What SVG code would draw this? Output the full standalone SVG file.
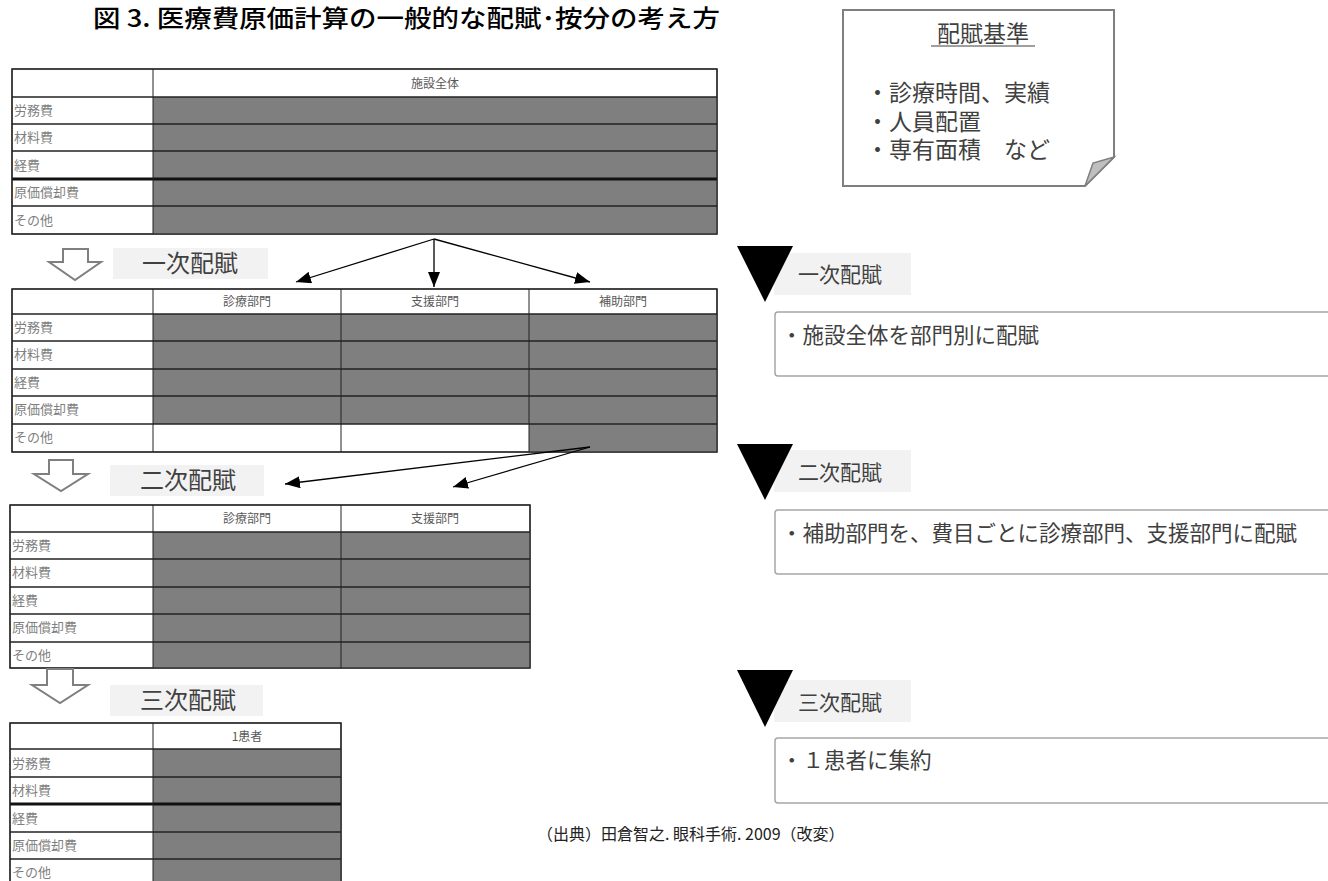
<svg xmlns="http://www.w3.org/2000/svg" width="1328" height="881" viewBox="0 0 1328 881">
<style>
.jp{font-family:"Noto Sans CJK JP","Noto Sans",sans-serif}
.title{font-size:24px;font-weight:500;fill:#000}
.hd{font-size:12px;fill:#595959;text-anchor:middle}
.rl{font-size:13px;fill:#7f7f7f}
.frame{fill:#fff;stroke:#222;stroke-width:1.2}
.cell{fill:#7f7f7f}
.ln{stroke:#222;stroke-width:1.5}
.thick{stroke:#111;stroke-width:3}
.vl{stroke:#222;stroke-width:1}
.hollow{fill:#fff;stroke:#7f7f7f;stroke-width:2}
.lbl{fill:#f2f2f2}
.lbltx{font-size:24px;fill:#404040}
.rtx{font-size:21px;fill:#404040}
.tri{fill:#000}
.desc{fill:#fff;stroke:#a6a6a6;stroke-width:1.5}
.dtx{font-size:21.5px;fill:#404040}
.con{stroke:#000;stroke-width:1.3;fill:none;marker-end:url(#ah)}
.note{fill:#fff;stroke:#7f7f7f;stroke-width:2}
.ntx{font-size:23px;fill:#404040}
</style>
<defs>
<marker id="ah" markerUnits="userSpaceOnUse" markerWidth="16" markerHeight="12" refX="15" refY="6" orient="auto">
<path d="M0,0 L15,6 L0,12 Z" fill="#000"/>
</marker>
</defs>
<rect width="1328" height="881" fill="#fff"/>

<text class="jp title" x="93" y="27" textLength="627" lengthAdjust="spacingAndGlyphs">図 3. 医療費原価計算の一般的な配賦･按分の考え方</text>

<g id="table-total">
<rect class="frame" x="12" y="69" width="705" height="165"/>
<rect class="cell" x="153" y="97" width="564" height="137"/>
<line class="ln" x1="12" y1="97" x2="717" y2="97"/>
<line class="ln" x1="12" y1="124" x2="717" y2="124"/>
<line class="ln" x1="12" y1="151" x2="717" y2="151"/>
<line class="thick" x1="12" y1="179" x2="717" y2="179"/>
<line class="ln" x1="12" y1="206" x2="717" y2="206"/>
<line class="vl" x1="153" y1="69" x2="153" y2="234"/>
<rect x="12" y="69" width="705" height="165" fill="none" stroke="#222" stroke-width="1.2"/>
<text class="jp hd" x="435" y="88">施設全体</text>
<text class="jp rl" x="14" y="115">労務費</text>
<text class="jp rl" x="14" y="142">材料費</text>
<text class="jp rl" x="14" y="170">経費</text>
<text class="jp rl" x="14" y="197">原価償却費</text>
<text class="jp rl" x="14" y="225">その他</text>
</g>

<g id="step1-label">
<path class="hollow" d="M63,249 H88 V262 H101 L75,280 L49,262 H63 Z"/>
<rect class="lbl" x="113" y="248" width="155" height="31"/>
<text class="jp lbltx" x="142" y="272">一次配賦</text>
</g>

<g id="table-dept3">
<rect class="frame" x="12" y="289" width="705" height="163"/>
<rect class="cell" x="153" y="314" width="564" height="110"/>
<rect class="cell" x="529" y="424" width="188" height="28"/>
<line class="ln" x1="12" y1="314" x2="717" y2="314"/>
<line class="ln" x1="12" y1="341" x2="717" y2="341"/>
<line class="ln" x1="12" y1="369" x2="717" y2="369"/>
<line class="ln" x1="12" y1="396" x2="717" y2="396"/>
<line class="ln" x1="12" y1="424" x2="717" y2="424"/>
<line class="vl" x1="153" y1="289" x2="153" y2="452"/>
<line class="vl" x1="341" y1="289" x2="341" y2="452"/>
<line class="vl" x1="529" y1="289" x2="529" y2="452"/>
<rect x="12" y="289" width="705" height="163" fill="none" stroke="#222" stroke-width="1.2"/>
<text class="jp hd" x="247" y="306">診療部門</text>
<text class="jp hd" x="435" y="306">支援部門</text>
<text class="jp hd" x="623" y="306">補助部門</text>
<text class="jp rl" x="14" y="332">労務費</text>
<text class="jp rl" x="14" y="359">材料費</text>
<text class="jp rl" x="14" y="387">経費</text>
<text class="jp rl" x="14" y="414">原価償却費</text>
<text class="jp rl" x="14" y="442">その他</text>
</g>

<g id="step2-label">
<path class="hollow" d="M49,460 H73 V474 H88 L61,491 L34,474 H49 Z"/>
<rect class="lbl" x="110" y="465" width="154" height="31"/>
<text class="jp lbltx" x="140" y="489">二次配賦</text>
</g>

<g id="table-dept2">
<rect class="frame" x="10" y="505" width="520" height="163"/>
<rect class="cell" x="153" y="532" width="377" height="136"/>
<line class="ln" x1="10" y1="532" x2="530" y2="532"/>
<line class="ln" x1="10" y1="559" x2="530" y2="559"/>
<line class="ln" x1="10" y1="587" x2="530" y2="587"/>
<line class="ln" x1="10" y1="614" x2="530" y2="614"/>
<line class="ln" x1="10" y1="642" x2="530" y2="642"/>
<line class="vl" x1="153" y1="505" x2="153" y2="668"/>
<line class="vl" x1="341" y1="505" x2="341" y2="668"/>
<rect x="10" y="505" width="520" height="163" fill="none" stroke="#222" stroke-width="1.2"/>
<text class="jp hd" x="247" y="523">診療部門</text>
<text class="jp hd" x="435" y="523">支援部門</text>
<text class="jp rl" x="12" y="550">労務費</text>
<text class="jp rl" x="12" y="577">材料費</text>
<text class="jp rl" x="12" y="605">経費</text>
<text class="jp rl" x="12" y="632">原価償却費</text>
<text class="jp rl" x="12" y="660">その他</text>
</g>

<g id="step3-label">
<path class="hollow" d="M47,669 H73 V685 H88 L60,703 L32,685 H47 Z"/>
<rect class="lbl" x="110" y="685" width="153" height="31"/>
<text class="jp lbltx" x="140" y="709">三次配賦</text>
</g>

<g id="table-patient">
<rect class="frame" x="10" y="723" width="331" height="165"/>
<rect class="cell" x="153" y="749" width="188" height="139"/>
<line class="ln" x1="10" y1="749" x2="341" y2="749"/>
<line class="ln" x1="10" y1="777" x2="341" y2="777"/>
<line class="thick" x1="10" y1="804" x2="341" y2="804"/>
<line class="ln" x1="10" y1="832" x2="341" y2="832"/>
<line class="ln" x1="10" y1="859" x2="341" y2="859"/>
<line class="vl" x1="153" y1="723" x2="153" y2="881"/>
<rect x="10" y="723" width="331" height="165" fill="none" stroke="#222" stroke-width="1.2"/>
<text class="jp hd" x="247" y="741">1患者</text>
<text class="jp rl" x="12" y="768">労務費</text>
<text class="jp rl" x="12" y="795">材料費</text>
<text class="jp rl" x="12" y="823">経費</text>
<text class="jp rl" x="12" y="850">原価償却費</text>
<text class="jp rl" x="12" y="877">その他</text>
</g>

<g id="connectors">
<line class="con" x1="434" y1="239" x2="296" y2="282"/>
<line class="con" x1="434" y1="239" x2="434" y2="287"/>
<line class="con" x1="434" y1="239" x2="590" y2="282"/>
<line class="con" x1="590" y1="447" x2="285" y2="484"/>
<line class="con" x1="590" y1="447" x2="453" y2="487"/>
</g>

<g id="note">
<path class="note" d="M843,10 H1114 V157 L1085,186 H843 Z"/>
<path d="M1085,186 L1093,163 L1114,157 Z" fill="#bfbfbf" stroke="#7f7f7f" stroke-width="1.5"/>
<text class="jp ntx" x="983" y="42" text-anchor="middle">配賦基準</text>
<line x1="931" y1="46" x2="1035" y2="46" stroke="#404040" stroke-width="1.2"/>
<text class="jp ntx" x="866" y="101">・診療時間、実績</text>
<text class="jp ntx" x="866" y="130">・人員配置</text>
<text class="jp ntx" x="866" y="158">・専有面積　など</text>
</g>

<g id="right-step1">
<rect class="lbl" x="774" y="253" width="137" height="42"/>
<path class="tri" d="M737,246 H793 L765,302 Z"/>
<text class="jp rtx" x="798" y="282">一次配賦</text>
<rect class="desc" x="775" y="312" width="560" height="64" rx="3"/>
<text class="jp dtx" x="781" y="343">・施設全体を部門別に配賦</text>
</g>

<g id="right-step2">
<rect class="lbl" x="774" y="450" width="137" height="42"/>
<path class="tri" d="M737,444 H793 L765,500 Z"/>
<text class="jp rtx" x="798" y="480">二次配賦</text>
<rect class="desc" x="775" y="510" width="560" height="64" rx="3"/>
<text class="jp dtx" x="781" y="541">・補助部門を、費目ごとに診療部門、支援部門に配賦</text>
</g>

<g id="right-step3">
<rect class="lbl" x="774" y="680" width="137" height="42"/>
<path class="tri" d="M737,670 H793 L765,727 Z"/>
<text class="jp rtx" x="798" y="710">三次配賦</text>
<rect class="desc" x="775" y="738" width="560" height="65" rx="3"/>
<text class="jp dtx" x="781" y="768">・１患者に集約</text>
</g>

<text class="jp" x="537" y="840" font-size="16" fill="#222">（出典）田倉智之. 眼科手術. 2009（改変）</text>
</svg>
